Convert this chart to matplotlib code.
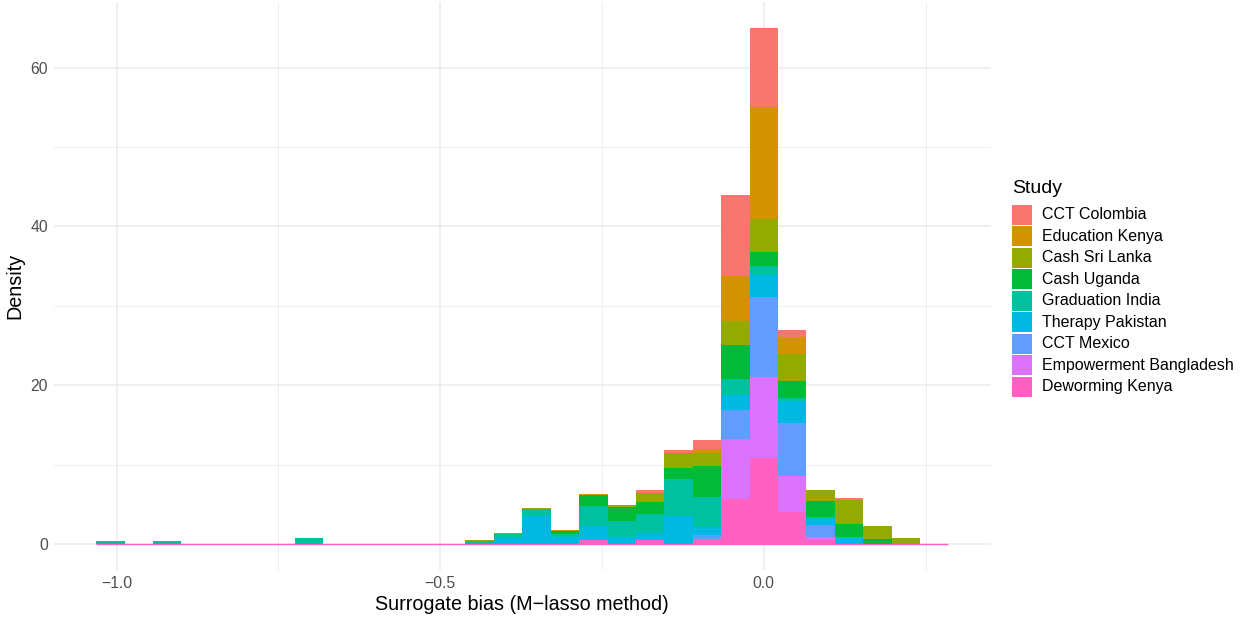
import numpy as np
import matplotlib
matplotlib.use("Agg")
import matplotlib.pyplot as plt
from matplotlib.patches import Rectangle

plt.rcParams['font.family'] = ['Liberation Sans', 'DejaVu Sans']

# histogram bins (30 bins, one centred on zero)
n_bins = 30
bin_width = 0.0439
first_center = -23 * bin_width

studies = ["CCT Colombia", "Education Kenya", "Cash Sri Lanka", "Cash Uganda",
           "Graduation India", "Therapy Pakistan", "CCT Mexico",
           "Empowerment Bangladesh", "Deworming Kenya"]
colors = ["#F8766D", "#D39200", "#93AA00", "#00BA38", "#00C19F",
          "#00B9E3", "#619CFF", "#DB72FB", "#FF61C3"]

# density per bin (left to right), one list per study
cct_colombia = [0, 0, 0, 0, 0, 0, 0, 0, 0, 0, 0, 0, 0, 0, 0, 0, 0, 0, 0,
                0.42, 0.42, 1.14, 10.1, 9.97, 0.92, 0, 0.2, 0, 0, 0]
education_kenya = [0, 0, 0, 0, 0, 0, 0, 0, 0, 0, 0, 0, 0, 0, 0, 0, 0.13, 0.17, 0,
                   0, 0, 0.48, 5.68, 14.1, 2.1, 0, 0, 0, 0, 0]
cash_sri_lanka = [0, 0, 0, 0, 0, 0, 0, 0, 0, 0, 0, 0, 0, 0.1, 0.08, 0.17, 0, 0, 0.25,
                  1.09, 1.85, 1.66, 3.03, 4.04, 3.41, 1.39, 3.09, 1.64, 0.76, 0]
cash_uganda = [0, 0, 0, 0, 0, 0, 0, 0, 0, 0, 0, 0, 0, 0.05, 0, 0, 0.29, 1.35, 1.77,
               1.51, 1.39, 3.91, 4.29, 1.77, 2.14, 2.02, 1.64, 0.63, 0, 0]
graduation_india = [0.45, 0, 0.45, 0, 0, 0, 0, 0.75, 0, 0, 0, 0, 0, 0.35, 0.46, 0.8, 0.42, 2.52, 2.02,
                    2.44, 4.67, 3.66, 2.02, 1.14, 0.38, 0, 0, 0, 0, 0]
therapy_pakistan = [0, 0, 0, 0, 0, 0, 0, 0, 0, 0, 0, 0, 0, 0, 0.84, 3.6, 0.92, 1.77, 0.92,
                    0.84, 3.57, 1.01, 1.85, 2.78, 2.78, 1.01, 0.88, 0, 0, 0]
cct_mexico = [0, 0, 0, 0, 0, 0, 0, 0, 0, 0, 0, 0, 0, 0, 0, 0, 0, 0, 0,
              0, 0, 0.61, 3.7, 10.1, 6.69, 1.51, 0, 0, 0, 0]
empowerment_bangladesh = [0, 0, 0, 0, 0, 0, 0, 0, 0, 0, 0, 0, 0, 0, 0, 0, 0, 0, 0,
                          0, 0, 0, 7.57, 10.2, 4.54, 0.38, 0, 0, 0, 0]
deworming_kenya = [0, 0, 0, 0, 0, 0, 0, 0, 0, 0, 0, 0, 0, 0, 0, 0, 0, 0.55, 0,
                   0.55, 0, 0.6, 5.68, 10.85, 4.04, 0.57, 0, 0, 0, 0]

series = [cct_colombia, education_kenya, cash_sri_lanka, cash_uganda,
          graduation_india, therapy_pakistan, cct_mexico,
          empowerment_bangladesh, deworming_kenya]

centers = first_center + bin_width * np.arange(n_bins)

W, H = 1247, 617
fig = plt.figure(figsize=(W / 100, H / 100), dpi=100)
ax = fig.add_axes([53.6 / W, 47 / H, (991 - 53.6) / W, (570 - 2.4) / H])

# ggplot stacks the first level on top, so build up from the last one
bottom = np.zeros(n_bins)
for vals, col in reversed(list(zip(series, colors))):
    vals = np.array(vals)
    ax.bar(centers, vals, width=bin_width, bottom=bottom, color=col,
           linewidth=0, zorder=3)
    bottom += vals

ax.hlines(0, centers[0] - bin_width / 2, centers[-1] + bin_width / 2,
          color=colors[-1], linewidth=1.0, zorder=2.5)

lo = centers[0] - bin_width / 2
hi = centers[-1] + bin_width / 2
pad = (hi - lo) * 0.05
ax.set_xlim(lo - pad, hi + pad)
ymax = bottom.max()
ax.set_ylim(-ymax * 0.05, ymax * 1.05)

ax.set_xticks([-1.0, -0.5, 0.0])
ax.set_xticks([-0.75, -0.25, 0.25], minor=True)
ax.set_yticks([0, 20, 40, 60])
ax.set_yticks([10, 30, 50], minor=True)
ax.grid(which='major', color='#EBEBEB', linewidth=1.1, zorder=0)
ax.grid(which='minor', color='#EBEBEB', linewidth=0.6, zorder=0)
ax.set_axisbelow(True)
for s in ax.spines.values():
    s.set_visible(False)
ax.tick_params(which='both', length=0)
ax.tick_params(axis='both', labelsize=11.3, labelcolor='#4D4D4D')
ax.tick_params(axis='x', pad=4)
ax.tick_params(axis='y', pad=4)
ax.set_xticklabels(['\u22121.0', '\u22120.5', '0.0'])

ax.set_xlabel('Surrogate bias (M\u2212lasso method)', fontsize=14.2, labelpad=3)
ax.set_ylabel('Density', fontsize=14.2, labelpad=4)

# legend
def fx(px):
    return px / W

def fy(py):
    return 1 - py / H

fig.text(fx(1012), fy(193), 'Study', fontsize=14, va='baseline', ha='left')
for i, (name, col) in enumerate(zip(studies, colors)):
    top = 205 + i * 21.45
    fig.add_artist(Rectangle((fx(1012), fy(top + 20)), 20 / W, 20 / H,
                             transform=fig.transFigure, color=col, linewidth=0))
    fig.text(fx(1042), fy(top + 10), name, fontsize=11.5, va='center', ha='left')

fig.savefig('out.png', dpi=100)
